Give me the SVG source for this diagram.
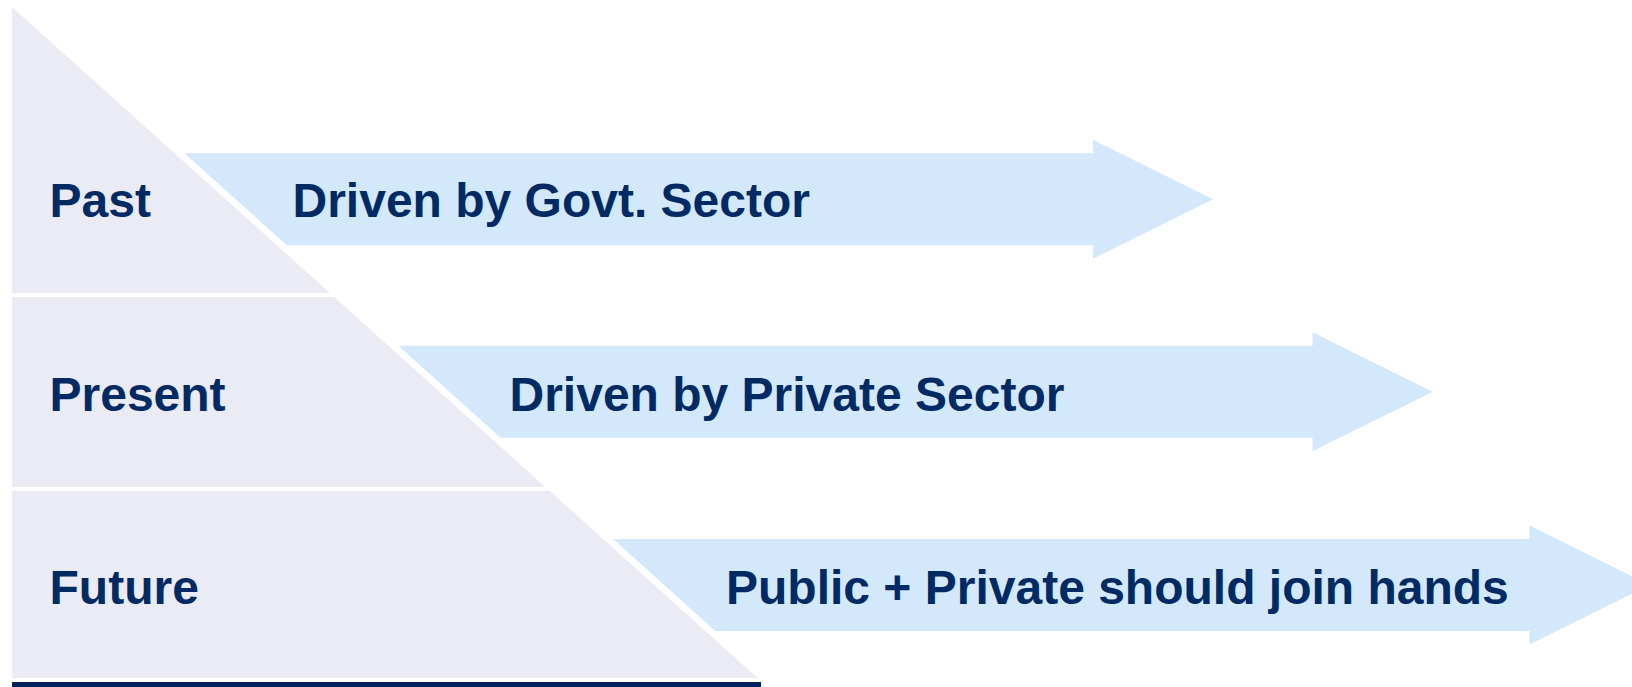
<svg xmlns="http://www.w3.org/2000/svg" width="1632" height="687" viewBox="0 0 1632 687">
  <style>
    .band { fill: #EAEBF5; }
    .arrow { fill: #D4E8FB; }
    .lbl { font-family: "Liberation Sans", Arial, sans-serif; font-weight: bold; font-size: 48px; fill: #002A64; }
  </style>
  <rect x="0" y="0" width="1632" height="687" fill="#FFFFFF"/>
  <g id="band-past">
    <polygon class="band" points="12,7 330,293 12,293"/>
    <text class="lbl" x="49.5" y="217">Past</text>
  </g>
  <g id="band-present">
    <polygon class="band" points="12,297 334.2,297 545.3,487 12,487"/>
    <text class="lbl" x="49.5" y="410.5">Present</text>
  </g>
  <g id="band-future">
    <polygon class="band" points="12,491 549.8,491 757.5,678 12,678"/>
    <text class="lbl" x="49.5" y="604">Future</text>
  </g>
  <rect id="base-line" x="12" y="682" width="749" height="6" fill="#002060"/>
  <g id="connectors">
    <g id="arrow-past">
      <polygon class="arrow" points="184.4,153.2 1093,153.2 1093,139.7 1213,199.2 1093,258.7 1093,245.2 286.7,245.2"/>
      <text class="lbl" x="292.5" y="217">Driven by Govt. Sector</text>
    </g>
    <g id="arrow-present">
      <polygon class="arrow" points="398.3,345.7 1312.5,345.7 1312.5,332.2 1432.5,391.7 1312.5,451.2 1312.5,437.7 500.6,437.7"/>
      <text class="lbl" x="509.5" y="410.5">Driven by Private Sector</text>
    </g>
    <g id="arrow-future">
      <polygon class="arrow" points="613.1,539 1529.5,539 1529.5,525.5 1649.5,585 1529.5,644.5 1529.5,631 715.3,631"/>
      <text class="lbl" x="726" y="604">Public + Private should join hands</text>
    </g>
  </g>
</svg>
